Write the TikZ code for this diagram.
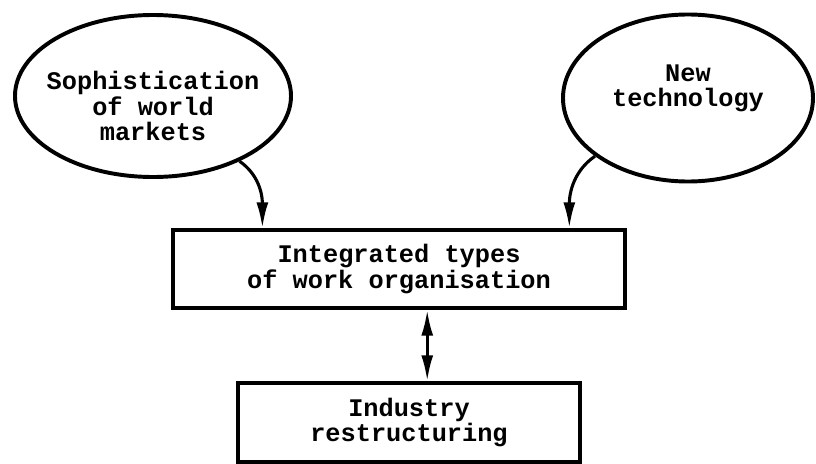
\documentclass[tikz,border=0pt]{standalone}
\usepackage{fontspec}
\newfontfamily\typew{Liberation Mono}
\usepackage{tikz}
\usetikzlibrary{arrows.meta,calc,shapes.geometric}

\begin{document}
\begin{tikzpicture}[
    font=\typew\bfseries\fontsize{18}{18}\selectfont,
    ell/.style={draw, ellipse, line width=2.8pt, inner sep=0pt, align=center},
    blk/.style={draw, line width=2.4pt, inner sep=0pt, align=center},
    arr/.style={-{Latex[length=6.5mm,width=3mm]}, line width=2.2pt}
  ]
  \useasboundingbox (0,0) rectangle (20.4,-11.6);
  \node[ell, minimum width=6.9cm, minimum height=4.05cm] (swm) at (3.825,-2.4) {};
  \node[align=center] (swmt) at (3.825,-2.65) {Sophistication\\of world\\markets};
  \node[ell, minimum width=6.25cm, minimum height=4.175cm] (nt) at (17.2,-2.45) {};
  \node[align=center] (ntt) at (17.2,-2.2) {New\\technology};
  \node[blk, minimum width=11.3cm, minimum height=1.95cm] (iwo) at (9.975,-6.725) {Integrated types\\of work organisation};
  \node[blk, minimum width=8.55cm, minimum height=1.975cm] (ir) at (10.225,-10.5625) {Industry\\restructuring};
  \coordinate (inl) at ($(iwo.north west)!0.2!(iwo.north east)$);
  \coordinate (inr) at ($(iwo.north west)!0.874!(iwo.north east)$);
  \coordinate (outd) at ($(iwo.south west)!0.562!(iwo.south east)$);
  \draw[arr] (swm.-37) to[out=-35, in=90] (inl);
  \draw[arr] (nt.-148) to[out=-145, in=90] (inr);
  \draw[arr, {Latex[length=6.5mm,width=3mm]}-{Latex[length=6.5mm,width=3mm]}] (outd) -- (outd |- ir.north);
\end{tikzpicture}
\end{document}
